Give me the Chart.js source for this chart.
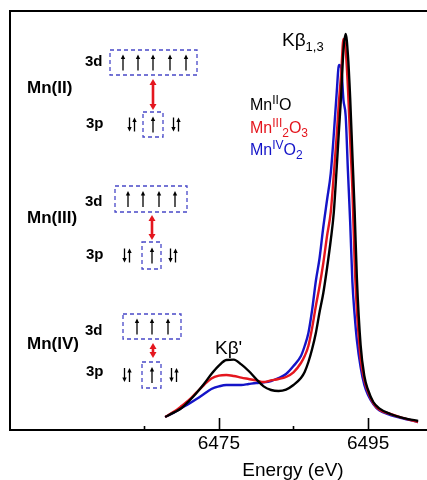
<!DOCTYPE html>
<html>
<head>
<meta charset="utf-8">
<script src="https://cdn.jsdelivr.net/npm/chart.js@4"></script>
<style>
  body { margin: 0; background: #fff; }
  canvas { display: block; }
</style>
</head>
<body>
<canvas id="chart" width="427" height="480"></canvas>
<script>
// energy grid (eV) shared by the three spectra
const energy = [6467.8, 6469, 6470, 6471, 6472, 6473, 6474, 6475, 6476, 6477,
  6478, 6479, 6480, 6481, 6482, 6483, 6484, 6485, 6486, 6486.5,
  6487, 6487.5, 6488, 6488.5, 6489, 6489.5, 6490, 6490.4, 6490.8, 6491.1,
  6491.4, 6491.7, 6492, 6492.3, 6492.6, 6492.9, 6493.2, 6493.5, 6494, 6494.5,
  6495, 6495.7, 6496.5, 6498, 6499.5, 6501.7];

// intensity (arb. units)
const mnO = [3.25, 4.4, 5.5, 7.25, 9.25, 11.5, 14.0, 16.1, 17.5, 17.6,
  16.4, 14.75, 12.75, 10.9, 10.0, 9.75, 10.1, 11.25, 13.0, 14.5,
  17.0, 20.25, 24.25, 29.5, 34.25, 40.5, 47.5, 54.25, 65.75, 75.0,
  84.0, 95.0, 99.0, 93.75, 83.0, 68.75, 54.75, 38.0, 21.25, 13.5,
  10.0, 7.0, 5.4, 4.0, 3.1, 2.25];
const mn2O3 = [3.25, 4.6, 6.0, 7.5, 9.4, 11.25, 12.9, 13.6, 13.75, 13.5,
  13.1, 12.75, 12.4, 12.0, 12.4, 12.75, 13.25, 14.4, 16.75, 18.5,
  21.0, 25.5, 31.0, 36.0, 41.75, 48.5, 54.5, 63.75, 73.75, 82.25,
  89.25, 97.75, 95.0, 85.5, 72.5, 60.0, 42.0, 30.0, 18.0, 12.5,
  9.5, 6.75, 5.1, 4.0, 3.1, 2.0];
const mnO2 = [3.25, 4.4, 5.5, 6.6, 7.75, 9.0, 10.25, 10.9, 11.25, 11.25,
  11.25, 11.5, 11.75, 11.9, 12.25, 13.0, 14.0, 16.0, 18.5, 21.0,
  24.25, 30.0, 37.25, 43.0, 50.75, 57.5, 64.25, 73.75, 84.5, 91.25,
  90.5, 82.5, 78.5, 64.75, 52.0, 37.0, 28.75, 22.5, 15.75, 11.25,
  8.75, 6.5, 4.9, 3.75, 3.0, 2.0];

const xTicks = [6465, 6475, 6485, 6495];
const xLabels = [6475, 6495];

const FONT = '"Liberation Sans", Arial, sans-serif';
const RED = '#e4161e';
const BLUE = '#1414c8';
const BOX = '#4848c8';

function pts(ys) { return energy.map((e, i) => ({ x: e, y: ys[i] })); }

function upArrow(ctx, x, yb, yt) {
  ctx.beginPath(); ctx.moveTo(x, yb); ctx.lineTo(x, yt + 3); ctx.stroke();
  ctx.beginPath(); ctx.moveTo(x, yt); ctx.lineTo(x - 2.2, yt + 4.5); ctx.lineTo(x + 2.2, yt + 4.5); ctx.closePath(); ctx.fill();
}
function downArrow(ctx, x, yt, yb) {
  ctx.beginPath(); ctx.moveTo(x, yt); ctx.lineTo(x, yb - 3); ctx.stroke();
  ctx.beginPath(); ctx.moveTo(x, yb); ctx.lineTo(x - 2.2, yb - 4.5); ctx.lineTo(x + 2.2, yb - 4.5); ctx.closePath(); ctx.fill();
}
function redArrow(ctx, x, y1, y2) {
  ctx.save();
  ctx.strokeStyle = RED; ctx.fillStyle = RED; ctx.lineWidth = 2.6;
  ctx.beginPath(); ctx.moveTo(x, y1 + 4); ctx.lineTo(x, y2 - 4); ctx.stroke();
  ctx.beginPath(); ctx.moveTo(x, y1); ctx.lineTo(x - 3.5, y1 + 6); ctx.lineTo(x + 3.5, y1 + 6); ctx.closePath(); ctx.fill();
  ctx.beginPath(); ctx.moveTo(x, y2); ctx.lineTo(x - 3.5, y2 - 6); ctx.lineTo(x + 3.5, y2 - 6); ctx.closePath(); ctx.fill();
  ctx.restore();
}
function dashBox(ctx, x1, y1, x2, y2) {
  ctx.save();
  ctx.strokeStyle = BOX; ctx.lineWidth = 1.3; ctx.setLineDash([4, 3]);
  ctx.strokeRect(x1, y1, x2 - x1, y2 - y1);
  ctx.restore();
}
function richText(ctx, x, y, parts, color, size, small) {
  ctx.fillStyle = color; ctx.textBaseline = 'alphabetic'; ctx.textAlign = 'left';
  parts.forEach(([t, m]) => {
    ctx.font = (m === 0 ? size : small) + 'px ' + FONT;
    const dy = m === 1 ? -size * 0.38 : m === -1 ? size * 0.25 : 0;
    ctx.fillText(t, x, y + dy);
    x += ctx.measureText(t).width;
  });
}

// electron configuration sketches on the left
const states = [
  { name: 'Mn(II)', ny: 88, d: 62, p: 124, box: [110, 50, 197, 75], ups: [123, 138, 153, 170, 186], arr: [153, 79, 110], pairs: [132, 176], pbox: [143, 112, 163, 137], pup: 153 },
  { name: 'Mn(III)', ny: 218, d: 202, p: 255, box: [115, 186, 187, 212], ups: [128, 143, 159, 175], arr: [152, 215, 240], pairs: [127, 173], pbox: [142, 242, 161, 269], pup: 152 },
  { name: 'Mn(IV)', ny: 344, d: 331, p: 372, box: [123, 314, 181, 339], ups: [137, 152, 168], arr: [153, 343, 358], pairs: [127, 174], pbox: [142, 362, 161, 388], pup: 152 }
];

const decor = {
  id: 'decor',
  afterDraw(chart) {
    const ctx = chart.ctx;
    const xs = chart.scales.x;
    const { left, right, top, bottom } = chart.chartArea;
    ctx.save();
    // frame
    ctx.strokeStyle = '#000'; ctx.lineWidth = 2;
    ctx.beginPath();
    ctx.moveTo(427, top); ctx.lineTo(left, top); ctx.lineTo(left, bottom); ctx.lineTo(427, bottom);
    ctx.stroke();
    // inward ticks
    ctx.lineWidth = 1.6;
    xTicks.forEach(v => {
      const px = Math.round(xs.getPixelForValue(v)) + 0.5;
      const len = xLabels.includes(v) ? 12 : 4;
      ctx.beginPath(); ctx.moveTo(px, bottom); ctx.lineTo(px, bottom - len); ctx.stroke();
    });
    // axis title
    ctx.fillStyle = '#000'; ctx.font = '19px ' + FONT;
    ctx.textAlign = 'center'; ctx.textBaseline = 'alphabetic';
    ctx.fillText('Energy (eV)', 293, 476);

    // peak labels
    richText(ctx, 282, 46, [['Kβ', 0], ['1,3', -1]], '#000', 19, 13);
    richText(ctx, 215, 354, [["Kβ'", 0]], '#000', 19, 13);

    // legend
    richText(ctx, 250, 110, [['Mn', 0], ['II', 1], ['O', 0]], '#000', 16, 12);
    richText(ctx, 250, 133, [['Mn', 0], ['III', 1], ['2', -1], ['O', 0], ['3', -1]], RED, 16, 12);
    richText(ctx, 250, 155, [['Mn', 0], ['IV', 1], ['O', 0], ['2', -1]], BLUE, 16, 12);

    // sketches
    states.forEach(s => {
      ctx.fillStyle = '#000'; ctx.textAlign = 'left'; ctx.textBaseline = 'middle';
      ctx.font = 'bold 17px ' + FONT;
      ctx.fillText(s.name, 27, s.ny);
      ctx.font = 'bold 15px ' + FONT;
      ctx.fillText('3d', 85, s.d);
      ctx.fillText('3p', 86, s.p);
      dashBox(ctx, ...s.box);
      ctx.strokeStyle = '#000'; ctx.fillStyle = '#000'; ctx.lineWidth = 1.3;
      const dy = (s.box[1] + s.box[3]) / 2;
      s.ups.forEach(x => upArrow(ctx, x, dy + 8, dy - 8));
      const py = (s.pbox[1] + s.pbox[3]) / 2;
      s.pairs.forEach(x => { downArrow(ctx, x - 2.5, py - 7, py + 7); upArrow(ctx, x + 2.5, py + 7, py - 7); });
      dashBox(ctx, ...s.pbox);
      ctx.strokeStyle = '#000'; ctx.fillStyle = '#000'; ctx.lineWidth = 1.3;
      upArrow(ctx, s.pup, py + 8, py - 8);
      redArrow(ctx, ...s.arr);
    });
    ctx.restore();
  }
};

const line = (data, color) => ({
  data: pts(data), borderColor: color, borderWidth: 2.4, pointRadius: 0,
  cubicInterpolationMode: 'monotone', fill: false
});

new Chart(document.getElementById('chart'), {
  type: 'line',
  data: {
    datasets: [
      Object.assign(line(mnO, '#000'), { label: 'MnIIO' }),
      Object.assign(line(mn2O3, RED), { label: 'MnIII2O3' }),
      Object.assign(line(mnO2, BLUE), { label: 'MnIVO2' })
    ]
  },
  options: {
    responsive: false,
    animation: false,
    layout: { padding: { left: 10, top: 11, right: 0, bottom: 0 } },
    plugins: { legend: { display: false }, tooltip: { enabled: false } },
    scales: {
      x: {
        type: 'linear', min: 6447, max: 6502.9,
        afterBuildTicks: s => { s.ticks = xTicks.map(v => ({ value: v })); },
        afterFit: s => { s.height = 50; },
        grid: { display: false, drawTicks: false },
        border: { display: false },
        ticks: {
          padding: 2, color: '#000', maxRotation: 0, autoSkip: false,
          font: { size: 19, family: FONT },
          callback: v => xLabels.includes(v) ? String(v) : ''
        }
      },
      y: { display: false, min: 0, max: 104.75 }
    }
  },
  plugins: [decor]
});
</script>
</body>
</html>
